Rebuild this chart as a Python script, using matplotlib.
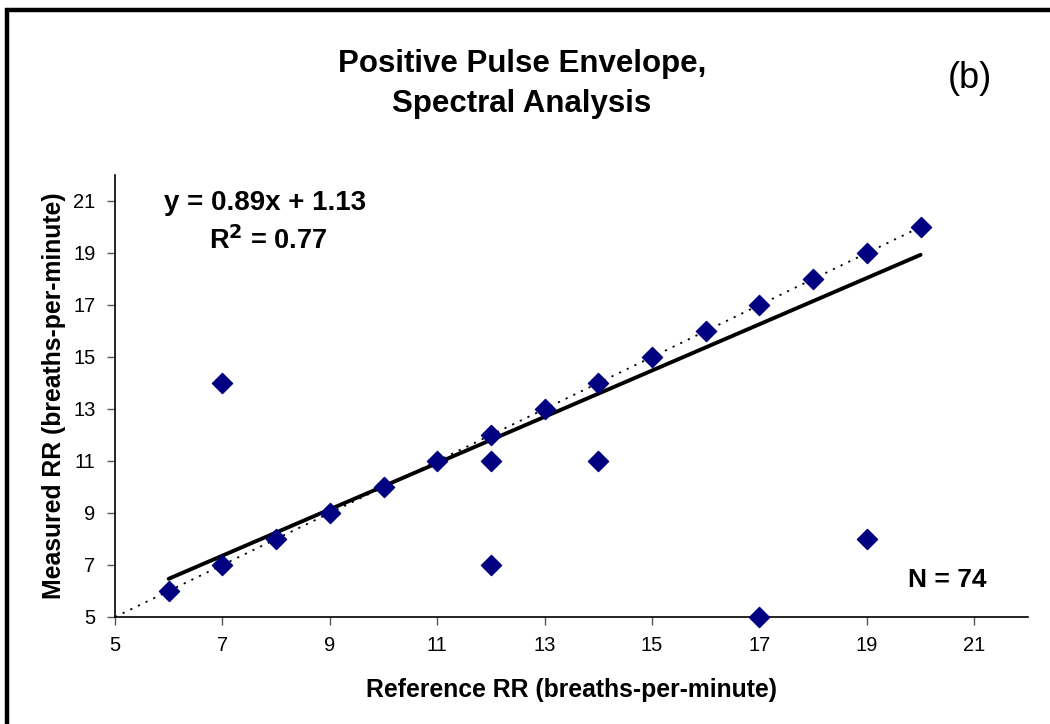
import numpy as np
import matplotlib
matplotlib.use("Agg")
import matplotlib.pyplot as plt
from matplotlib.patches import Rectangle

plt.rcParams['font.family'] = ['Liberation Sans', 'DejaVu Sans']

# data (duplicates overlap, N = 74 in total)
ref_rr = [6, 7, 7, 8, 9, 10, 11, 12, 12, 12, 13, 14, 14, 15, 16, 17, 17, 18, 19, 19, 20]
meas_rr = [6, 7, 14, 8, 9, 10, 11, 12, 11, 7, 13, 14, 11, 15, 16, 17, 5, 18, 19, 8, 20]
slope = 0.89
intercept = 1.13
r2 = 0.77
n_total = 74
ticks = [5, 7, 9, 11, 13, 15, 17, 19, 21]

W, H = 1050, 724
fig = plt.figure(figsize=(W/100, H/100), dpi=100)
ax = fig.add_axes([115/W, 1-617/H, 913/W, 442/H])

def px(x, y):
    # pixel position from the top-left corner -> figure fraction
    return x/W, 1 - y/H

# identity line (dotted)
ident = np.array([5, 20])
ax.plot(ident, ident, linestyle=(0, (1.2, 3.5)), color='black', lw=1.3, zorder=1)

# regression line
fx = np.array([min(ref_rr), max(ref_rr)])
ax.plot(fx, slope*fx + intercept, color='black', lw=2.8, solid_capstyle='round', zorder=2)

ax.scatter(ref_rr, meas_rr, marker='D', s=105, color='#000080', zorder=3, clip_on=False)

ax.set_xlim(5, 22)
ax.set_ylim(5, 22)
ax.set_xticks(ticks)
ax.set_yticks(ticks)
ax.tick_params(labelsize=14.5, length=6, width=1, color='#555555', pad=8)
for s in ['top', 'right']:
    ax.spines[s].set_visible(False)
for s in ['left', 'bottom']:
    ax.spines[s].set_linewidth(1.2)

ax.set_xlabel('Reference RR (breaths-per-minute)', fontsize=17.8, fontweight='bold', labelpad=16)
ax.set_ylabel('Measured RR (breaths-per-minute)', fontsize=17.8, fontweight='bold', labelpad=5)

fig.text(*px(265, 203), f'y = {slope}x + {intercept}', fontsize=20, fontweight='bold',
         ha='center', va='center')
fig.text(*px(268, 241), f'R$^\\mathbf{{2}}$ = {r2}', fontsize=19.5, fontweight='bold',
         ha='center', va='center')
fig.text(*px(947, 580), f'N = {n_total}', fontsize=19, fontweight='bold', ha='center', va='center')

fig.text(*px(522, 84), 'Positive Pulse Envelope,\nSpectral Analysis', fontsize=22.5,
         fontweight='bold', ha='center', va='center', linespacing=1.45)
fig.text(*px(970, 78), '(b)', fontsize=26, ha='center', va='center')

fig.patches.append(Rectangle((7/W, -0.2), 1.2, 1.2 - 10/H, transform=fig.transFigure,
                             fill=False, lw=3.2, edgecolor='black'))

fig.savefig('out.png', dpi=100)
